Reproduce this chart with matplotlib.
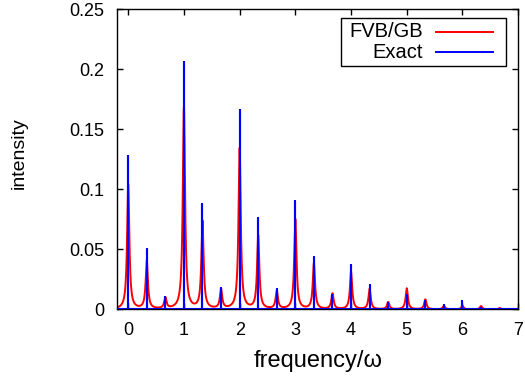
import numpy as np
import matplotlib
matplotlib.use("Agg")
import matplotlib.pyplot as plt
from matplotlib.ticker import FuncFormatter
from matplotlib.patches import Rectangle

plt.rcParams['font.family'] = ['Liberation Sans', 'DejaVu Sans']

# peak positions in units of omega (spacing omega/3)
peak_pos = [k / 3 for k in range(22)]

# stick heights, exact spectrum
exact_h = [0.128, 0.050, 0.010, 0.206, 0.088, 0.018, 0.166, 0.076, 0.017,
           0.090, 0.044, 0.012, 0.037, 0.020, 0.0055, 0.012, 0.0072, 0.0038,
           0.0072, 0.001, 0.0, 0.0]

# peak heights of the broadened FVB/GB spectrum
fvb_h = [0.104, 0.040, 0.009, 0.169, 0.073, 0.016, 0.134, 0.061, 0.015,
         0.075, 0.038, 0.013, 0.031, 0.017, 0.006, 0.0175, 0.0083, 0.003,
         0.003, 0.0028, 0.0012, 0.0005]
gamma = 0.024  # lorentzian half width

x_ticks = [0, 1, 2, 3, 4, 5, 6, 7]
y_ticks = [0, 0.05, 0.1, 0.15, 0.2, 0.25]
labels = ['FVB/GB', 'Exact']
colors = ['red', 'blue']

fig = plt.figure(figsize=(5.25, 3.76), dpi=100)
ax = fig.add_axes([0.223, 0.177, 0.764, 0.798])

# red: lorentzian broadened spectrum
xs = np.linspace(-0.2, 7, 7201)
ys = np.zeros_like(xs)
for p, h in zip(peak_pos, fvb_h):
    ys += h * gamma**2 / (gamma**2 + (xs - p)**2)
ax.plot(xs, ys, color=colors[0], lw=1.4, zorder=2)

# blue: stick spectrum
bx, by = [-0.2], [0.0]
for p, h in zip(peak_pos, exact_h):
    bx += [p, p, p]
    by += [0.0, h, 0.0]
bx.append(7)
by.append(0.0)
ax.plot(bx, by, color=colors[1], lw=1.5, zorder=3)

ax.set_xlim(-0.2, 7)
ax.set_ylim(0, 0.25)
ax.set_xticks(x_ticks)
ax.set_yticks(y_ticks)
ax.yaxis.set_major_formatter(FuncFormatter(lambda v, pos: '%g' % v))
ax.tick_params(direction='in', length=4.5, width=1, top=True, right=True,
               labelsize=13, pad=9)
for s in ax.spines.values():
    s.set_linewidth(1.0)

ax.set_xlabel('frequency/ω', fontsize=17)
ax.xaxis.set_label_coords(0.5, -0.135)
ax.set_ylabel('intensity', fontsize=14)
ax.yaxis.set_label_coords(-0.222, 0.52)

# gnuplot style key: right aligned text, then the line sample
ax.add_patch(Rectangle((0.559, 0.811), 0.411, 0.162, transform=ax.transAxes,
                       fill=True, facecolor='white', edgecolor='black',
                       lw=1.0, zorder=5))
row_y = [0.925, 0.857]
for lab, c, yy in zip(labels, colors, row_y):
    ax.text(0.762, yy, lab, transform=ax.transAxes, ha='right', va='center',
            fontsize=14.5, zorder=6)
    ax.plot([0.795, 0.937], [yy, yy], color=c, lw=1.4,
            transform=ax.transAxes, zorder=6)

fig.savefig('out.png', dpi=100)
